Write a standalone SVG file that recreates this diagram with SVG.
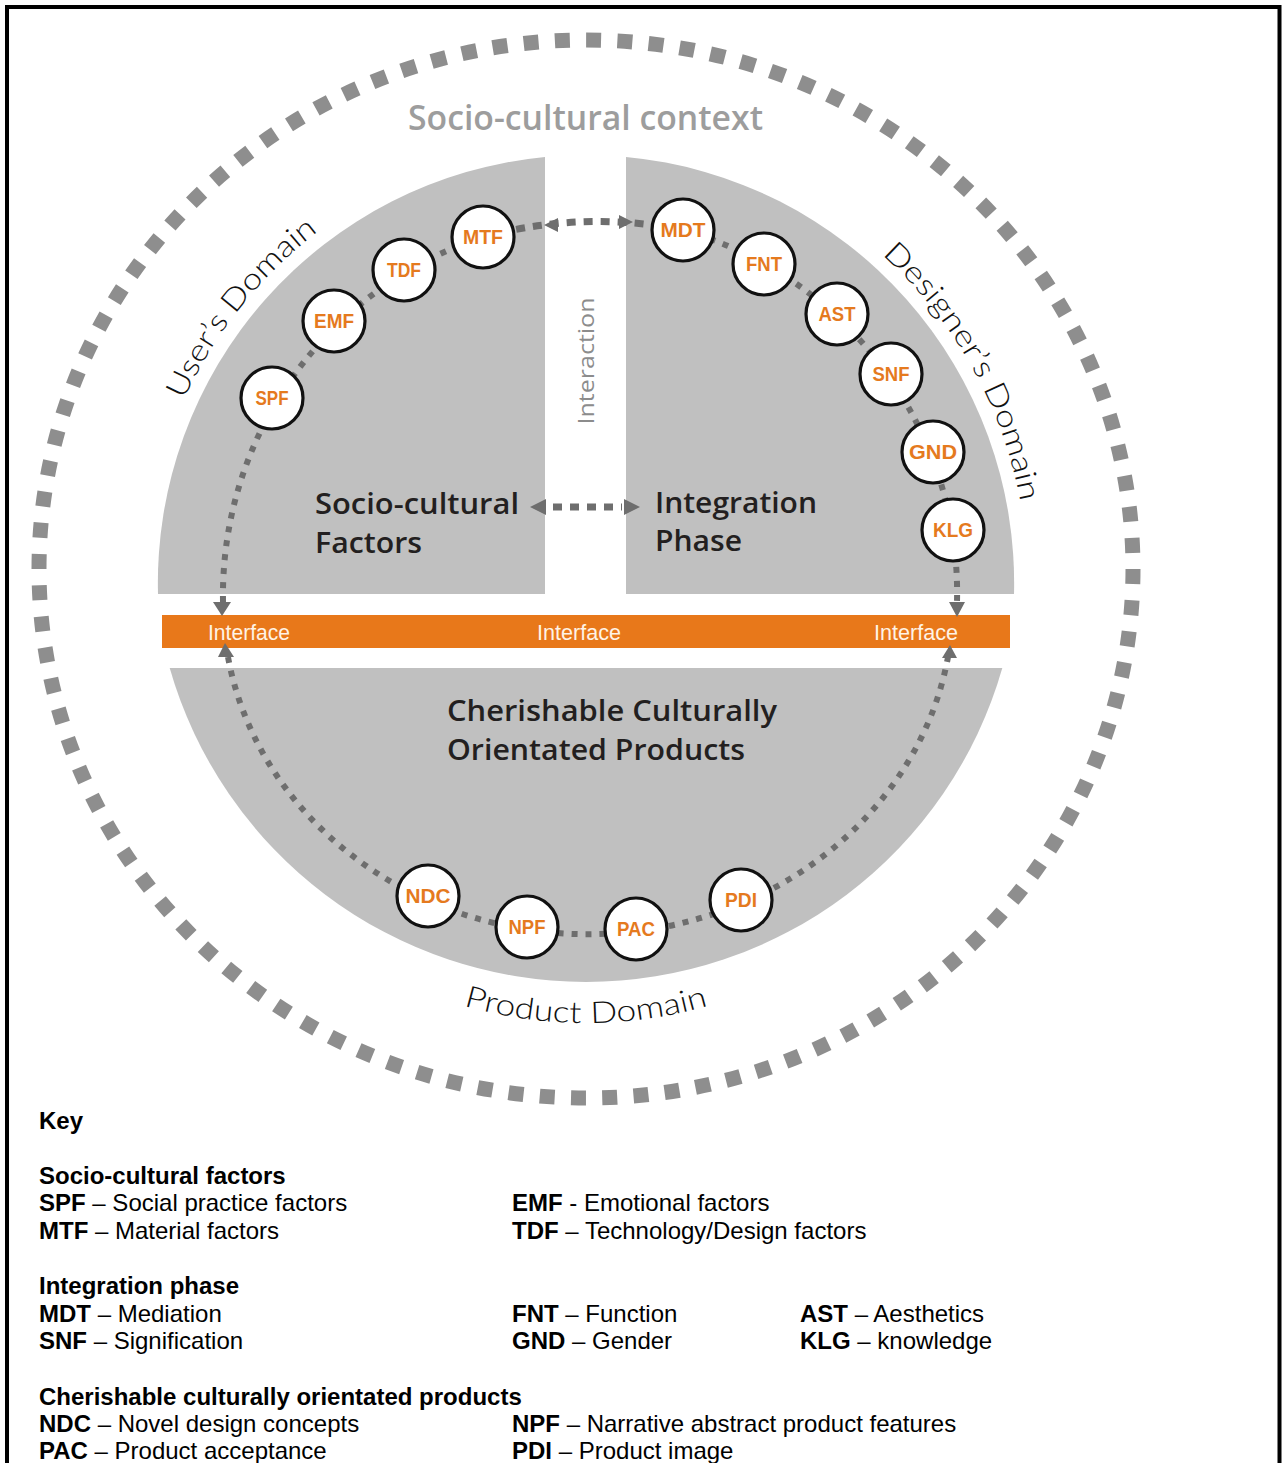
<svg xmlns="http://www.w3.org/2000/svg" width="1282" height="1463" viewBox="0 0 1282 1463">
<style>
.quad{fill:#c0c0c0}
.ring{fill:none;stroke:#6e6e6e;stroke-width:6;stroke-dasharray:6 8}
.link{fill:none;stroke:#6e6e6e;stroke-width:7;stroke-dasharray:9 8}
.head{fill:#6e6e6e}
.node circle{fill:#fff;stroke:#111;stroke-width:3.2}
.node text{font-family:"Liberation Sans",Arial,sans-serif;font-weight:bold;font-size:20px;fill:#e57a1e;text-anchor:middle}
.big{font-family:"Open Sans","DejaVu Sans",sans-serif;font-weight:600;font-size:29px;fill:#231f20}
.dom{font-family:Lato,"Open Sans",sans-serif;font-weight:300;font-size:30px;fill:#111}
.iface{font-family:"Liberation Sans",Arial,sans-serif;font-size:22px;fill:#fff3e6}
.key{font-family:"Liberation Sans",Arial,sans-serif;font-size:24px;fill:#000}
.b{font-weight:bold}
</style>
<defs>
<path id="pUser" d="M 167.1,442 A 442 442 0 0 1 355.7,205.8"/>
<path id="pDes" d="M 858.1,234.7 A 442 442 0 0 1 1025.1,532.2"/>
<path id="pProd" d="M 435.5,996.5 A 440 440 0 0 0 736.5,996.5"/>
</defs>
<rect width="1282" height="1463" fill="#fff"/>
<path d="M7,1463 V7 H1279.5 V1463" fill="none" stroke="#000" stroke-width="4"/>

<g id="context">
<ellipse cx="586" cy="569" rx="547" ry="529" fill="none" stroke="#8e8e8e" stroke-width="15" stroke-dasharray="15 16.3"/>
<text x="585.5" y="130" text-anchor="middle" font-family="'Open Sans','DejaVu Sans',sans-serif" font-weight="600" font-size="35" fill="#9d9d9d" textLength="355" lengthAdjust="spacingAndGlyphs">Socio-cultural context</text>
</g>

<g id="quadrants">
<path class="quad" d="M 545,594 V 157 A 428 428 0 0 0 158,594 Z"/>
<path class="quad" d="M 626,594 V 157 A 428 428 0 0 1 1014,594 Z"/>
<path class="quad" d="M 169.7,668 H 1002.3 A 433 433 0 0 1 169.7,668 Z"/>
</g>

<g id="interface-bar">
<rect x="162" y="615" width="848" height="33" fill="#e8781a"/>
<text class="iface" x="208" y="640" textLength="82" lengthAdjust="spacingAndGlyphs">Interface</text>
<text class="iface" x="537" y="640" textLength="84" lengthAdjust="spacingAndGlyphs">Interface</text>
<text class="iface" x="874" y="640" textLength="84" lengthAdjust="spacingAndGlyphs">Interface</text>
</g>

<g id="labels">
<text class="dom" textLength="91" lengthAdjust="spacingAndGlyphs"><textPath href="#pUser" startOffset="45.3">User’s</textPath></text>
<text class="dom" textLength="118" lengthAdjust="spacingAndGlyphs"><textPath href="#pUser" startOffset="145">Domain</textPath></text>
<text class="dom" textLength="159" lengthAdjust="spacingAndGlyphs"><textPath href="#pDes" startOffset="31.1">Designer’s</textPath></text>
<text class="dom" textLength="120" lengthAdjust="spacingAndGlyphs"><textPath href="#pDes" startOffset="199.3">Domain</textPath></text>
<text class="dom" textLength="248" lengthAdjust="spacingAndGlyphs"><textPath href="#pProd" startOffset="50%" text-anchor="middle">Product Domain</textPath></text>
<text transform="translate(594,361) rotate(-90)" text-anchor="middle" font-family="'Open Sans','DejaVu Sans',sans-serif" font-size="22" fill="#8c8c8c" textLength="127" lengthAdjust="spacingAndGlyphs">Interaction</text>
<text class="big" x="315" y="514" textLength="204" lengthAdjust="spacingAndGlyphs">Socio-cultural</text>
<text class="big" x="315" y="553" textLength="107" lengthAdjust="spacingAndGlyphs">Factors</text>
<text class="big" x="655" y="513" textLength="162" lengthAdjust="spacingAndGlyphs">Integration</text>
<text class="big" x="655" y="551" textLength="87" lengthAdjust="spacingAndGlyphs">Phase</text>
<text class="big" x="447" y="721" textLength="330" lengthAdjust="spacingAndGlyphs">Cherishable Culturally</text>
<text class="big" x="447" y="760" textLength="298" lengthAdjust="spacingAndGlyphs">Orientated Products</text>
</g>

<g id="connectors">
<path class="ring" d="M 223,602 A 377 377 0 0 1 483,237"/>
<path class="link" d="M 483,237 Q 583,210 683,230"/>
<path class="ring" d="M 683,230 A 377 377 0 0 1 957,602"/>
<path class="ring" d="M 228,657 A 365 332 0 0 0 948,657"/>
<path class="link" d="M 553,507 H 622" stroke-width="8" stroke-dasharray="8 9"/>
<polygon class="head" points="544,225 558,218 558,232"/>
<polygon class="head" points="633,222 619,215 619,229"/>
<polygon class="head" points="530,507 546,499 546,515"/>
<polygon class="head" points="640,507 624,499 624,515"/>
<polygon class="head" points="213,602 231,602 222,616"/>
<polygon class="head" points="218,657 234,657 225,643"/>
<polygon class="head" points="949,602 965,602 957,617"/>
<polygon class="head" points="942,658 957,658 950,645"/>
</g>

<g id="node-MTF" class="node"><circle cx="483" cy="237" r="31"/><text x="483" y="244" textLength="40" lengthAdjust="spacingAndGlyphs">MTF</text></g>
<g id="node-TDF" class="node"><circle cx="404" cy="270" r="31"/><text x="404" y="277" textLength="34" lengthAdjust="spacingAndGlyphs">TDF</text></g>
<g id="node-EMF" class="node"><circle cx="334" cy="321" r="31"/><text x="334" y="328" textLength="40" lengthAdjust="spacingAndGlyphs">EMF</text></g>
<g id="node-SPF" class="node"><circle cx="272" cy="398" r="31"/><text x="272" y="405" textLength="33" lengthAdjust="spacingAndGlyphs">SPF</text></g>
<g id="node-MDT" class="node"><circle cx="683" cy="230" r="31"/><text x="683" y="237" textLength="45" lengthAdjust="spacingAndGlyphs">MDT</text></g>
<g id="node-FNT" class="node"><circle cx="764" cy="264" r="31"/><text x="764" y="271" textLength="36" lengthAdjust="spacingAndGlyphs">FNT</text></g>
<g id="node-AST" class="node"><circle cx="837" cy="314" r="31"/><text x="837" y="321" textLength="37" lengthAdjust="spacingAndGlyphs">AST</text></g>
<g id="node-SNF" class="node"><circle cx="891" cy="374" r="31"/><text x="891" y="381" textLength="37" lengthAdjust="spacingAndGlyphs">SNF</text></g>
<g id="node-GND" class="node"><circle cx="933" cy="452" r="31"/><text x="933" y="459" textLength="48" lengthAdjust="spacingAndGlyphs">GND</text></g>
<g id="node-KLG" class="node"><circle cx="953" cy="530" r="31"/><text x="953" y="537" textLength="40" lengthAdjust="spacingAndGlyphs">KLG</text></g>
<g id="node-NDC" class="node"><circle cx="428" cy="896" r="31"/><text x="428" y="903" textLength="45" lengthAdjust="spacingAndGlyphs">NDC</text></g>
<g id="node-NPF" class="node"><circle cx="527" cy="927" r="31"/><text x="527" y="934" textLength="37" lengthAdjust="spacingAndGlyphs">NPF</text></g>
<g id="node-PAC" class="node"><circle cx="636" cy="929" r="31"/><text x="636" y="936" textLength="38" lengthAdjust="spacingAndGlyphs">PAC</text></g>
<g id="node-PDI" class="node"><circle cx="741" cy="900" r="31"/><text x="741" y="907" textLength="32" lengthAdjust="spacingAndGlyphs">PDI</text></g>

<g id="key">
<text class="key b" x="39" y="1129">Key</text>
<text class="key b" x="39" y="1184">Socio-cultural factors</text>
<text class="key" x="39" y="1211"><tspan class="b">SPF</tspan> – Social practice factors</text>
<text class="key" x="39" y="1239"><tspan class="b">MTF</tspan> – Material factors</text>
<text class="key" x="512" y="1211"><tspan class="b">EMF</tspan> - Emotional factors</text>
<text class="key" x="512" y="1239"><tspan class="b">TDF</tspan> – Technology/Design factors</text>
<text class="key b" x="39" y="1294">Integration phase</text>
<text class="key" x="39" y="1322"><tspan class="b">MDT</tspan> – Mediation</text>
<text class="key" x="39" y="1349"><tspan class="b">SNF</tspan> – Signification</text>
<text class="key" x="512" y="1322"><tspan class="b">FNT</tspan> – Function</text>
<text class="key" x="512" y="1349"><tspan class="b">GND</tspan> – Gender</text>
<text class="key" x="800" y="1322"><tspan class="b">AST</tspan> – Aesthetics</text>
<text class="key" x="800" y="1349"><tspan class="b">KLG</tspan> – knowledge</text>
<text class="key b" x="39" y="1405">Cherishable culturally orientated products</text>
<text class="key" x="39" y="1432"><tspan class="b">NDC</tspan> – Novel design concepts</text>
<text class="key" x="39" y="1459"><tspan class="b">PAC</tspan> – Product acceptance</text>
<text class="key" x="512" y="1432"><tspan class="b">NPF</tspan> – Narrative abstract product features</text>
<text class="key" x="512" y="1459"><tspan class="b">PDI</tspan> – Product image</text>
</g>
</svg>
